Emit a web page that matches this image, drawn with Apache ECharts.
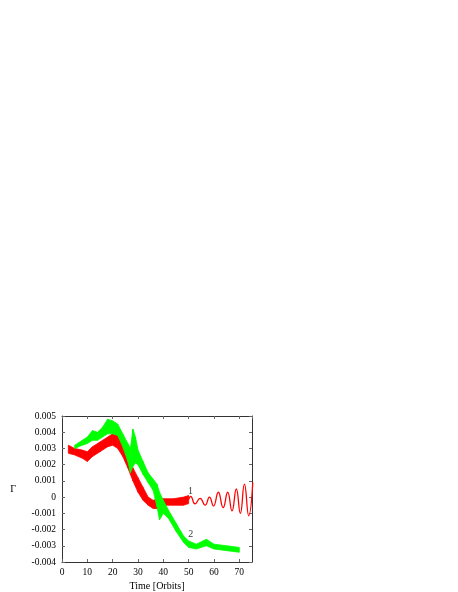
<!DOCTYPE html>
<html>
<head>
<meta charset="utf-8">
<script src="https://cdn.jsdelivr.net/npm/echarts@6/dist/echarts.min.js"></script>
<style>
  html, body { margin: 0; padding: 0; background: #fff; }
  #chart { width: 458px; height: 592px; }
</style>
</head>
<body>
<div id="chart"></div>
<script>
// curve 1 (red): noisy band, read as lower / upper edge
const redT  = [2.5, 5, 8, 10, 12, 15, 18, 20, 22, 24, 26, 28, 30, 32, 34, 36, 38, 40, 44, 48, 50];
const redHi = [0.0032, 0.0030, 0.0029, 0.0028, 0.0031, 0.0034, 0.0037, 0.0039, 0.0038, 0.0034, 0.0026,
               0.0018, 0.0012, 0.0006, 0.0000, -0.0002, -0.0001, -0.0001, -0.0001, 0.0000, 0.0001];
const redLo = [0.0027, 0.0026, 0.0024, 0.0022, 0.0025, 0.0028, 0.0031, 0.0032, 0.0030, 0.0025, 0.0018,
               0.0010, 0.0003, -0.0002, -0.0005, -0.0007, -0.0007, -0.0005, -0.0005, -0.0005, -0.0004];
// curve 1 tail: thin oscillation
const tailT = [50, 50.8, 52.5, 54.5, 56.5, 58.2, 59.8, 61.7, 63.6, 65.4, 67.1, 68.8, 70.4, 72.0, 73.7, 75.3];
const tailV = [-0.00015, 0.00005, -0.00042, -0.00008, -0.0005, 0.0000, -0.00055, 0.0003, -0.00065,
               0.0003, -0.00085, 0.0005, -0.001, 0.0008, -0.00115, 0.0009];
// curve 2 (green)
const greenT  = [5, 8, 10, 12, 14, 16, 18, 20, 22, 24, 26, 27, 28, 29, 30, 32, 34, 36, 37.5, 38.5,
                 40, 42, 45, 48, 50, 53, 57, 60, 65, 70];
const greenHi = [0.0032, 0.0035, 0.0037, 0.0041, 0.0040, 0.0043, 0.0048, 0.0047, 0.0045, 0.0039, 0.0033,
                 0.0030, 0.0042, 0.0037, 0.0029, 0.0022, 0.0015, 0.0011, 0.0008, 0.0003, -0.0002, -0.0008,
                 -0.0016, -0.0024, -0.0027, -0.0029, -0.0026, -0.0029, -0.0030, -0.0031];
const greenLo = [0.0030, 0.0032, 0.0033, 0.0035, 0.0035, 0.0037, 0.0039, 0.0039, 0.0038, 0.0031, 0.0022,
                 0.0015, 0.0019, 0.0021, 0.0020, 0.0014, 0.0009, 0.0004, -0.0006, -0.0014, -0.0010, -0.0013,
                 -0.0021, -0.0028, -0.0031, -0.0032, -0.0030, -0.0032, -0.0033, -0.0034];
// curve labels
const curveLabels = [['1', 50.7, 0.00035], ['2', 50.8, -0.00227]];

const RED = '#ff0000';
const GREEN = '#00ff00';
const font = { fontFamily: 'Liberation Serif', fontSize: 9.5, color: '#000' };
const nameFont = { fontFamily: 'Liberation Serif', fontSize: 10, color: '#000' };

function pairs(t, v) { return t.map((x, i) => [x, v[i]]); }

// noisy band as a row of quads between lower and upper edge
function band(t, lo, hi, color) {
  const segs = [];
  for (let i = 0; i < t.length - 1; i++) {
    segs.push([t[i], lo[i], hi[i], t[i + 1], lo[i + 1], hi[i + 1]]);
  }
  return {
    type: 'custom',
    data: segs,
    encode: { x: [0, 3], y: [1, 2, 4, 5] },
    renderItem: function (params, api) {
      const p = [
        api.coord([api.value(0), api.value(1)]),
        api.coord([api.value(3), api.value(4)]),
        api.coord([api.value(3), api.value(5)]),
        api.coord([api.value(0), api.value(2)])
      ];
      return {
        type: 'polygon',
        shape: { points: p },
        style: { fill: color, stroke: color, lineWidth: 0.8 }
      };
    }
  };
}

const axisLine = { show: true, onZero: false, lineStyle: { color: '#333', width: 1 } };
const tick = { show: true, inside: true, length: 3, lineStyle: { color: '#666' } };

const chart = echarts.init(document.getElementById('chart'));
chart.setOption({
  animation: false,
  grid: { left: 62, top: 416, width: 190, height: 147 },
  xAxis: [
    {
      type: 'value', min: 0, max: 75, interval: 10, position: 'bottom',
      axisLine: axisLine, axisTick: tick, splitLine: { show: false },
      axisLabel: Object.assign({ margin: 5, showMaxLabel: false }, font),
      name: 'Time [Orbits]', nameLocation: 'middle', nameGap: 19,
      nameTextStyle: nameFont
    },
    {
      type: 'value', min: 0, max: 75, interval: 10, position: 'top',
      axisLine: axisLine, axisTick: tick, splitLine: { show: false },
      axisLabel: { show: false }
    }
  ],
  yAxis: [
    {
      type: 'value', min: -0.004, max: 0.005, interval: 0.001, position: 'left',
      axisLine: axisLine, axisTick: tick, splitLine: { show: false },
      axisLabel: Object.assign({
        margin: 6,
        formatter: function (v) {
          const r = Math.round(v * 1000) / 1000;
          return r === 0 ? '0' : r.toFixed(3);
        }
      }, font),
      name: 'Γ', nameLocation: 'middle', nameRotate: 0, nameGap: 46,
      nameTextStyle: nameFont
    },
    {
      type: 'value', min: -0.004, max: 0.005, interval: 0.001, position: 'right',
      axisLine: axisLine, axisTick: tick, splitLine: { show: false },
      axisLabel: { show: false }
    }
  ],
  series: [
    band(redT, redLo, redHi, RED),
    {
      type: 'line', symbol: 'none', smooth: 0.5,
      data: pairs(tailT, tailV),
      lineStyle: { color: RED, width: 1.3 }
    },
    band(greenT, greenLo, greenHi, GREEN),
    {
      type: 'scatter', symbolSize: 0, z: 10, silent: true,
      data: curveLabels.map(d => ({ value: [d[1], d[2]], name: d[0] })),
      label: Object.assign({ show: true, position: 'inside', formatter: '{b}' }, nameFont),
      labelLayout: { hideOverlap: false }
    }
  ]
});
</script>
</body>
</html>
